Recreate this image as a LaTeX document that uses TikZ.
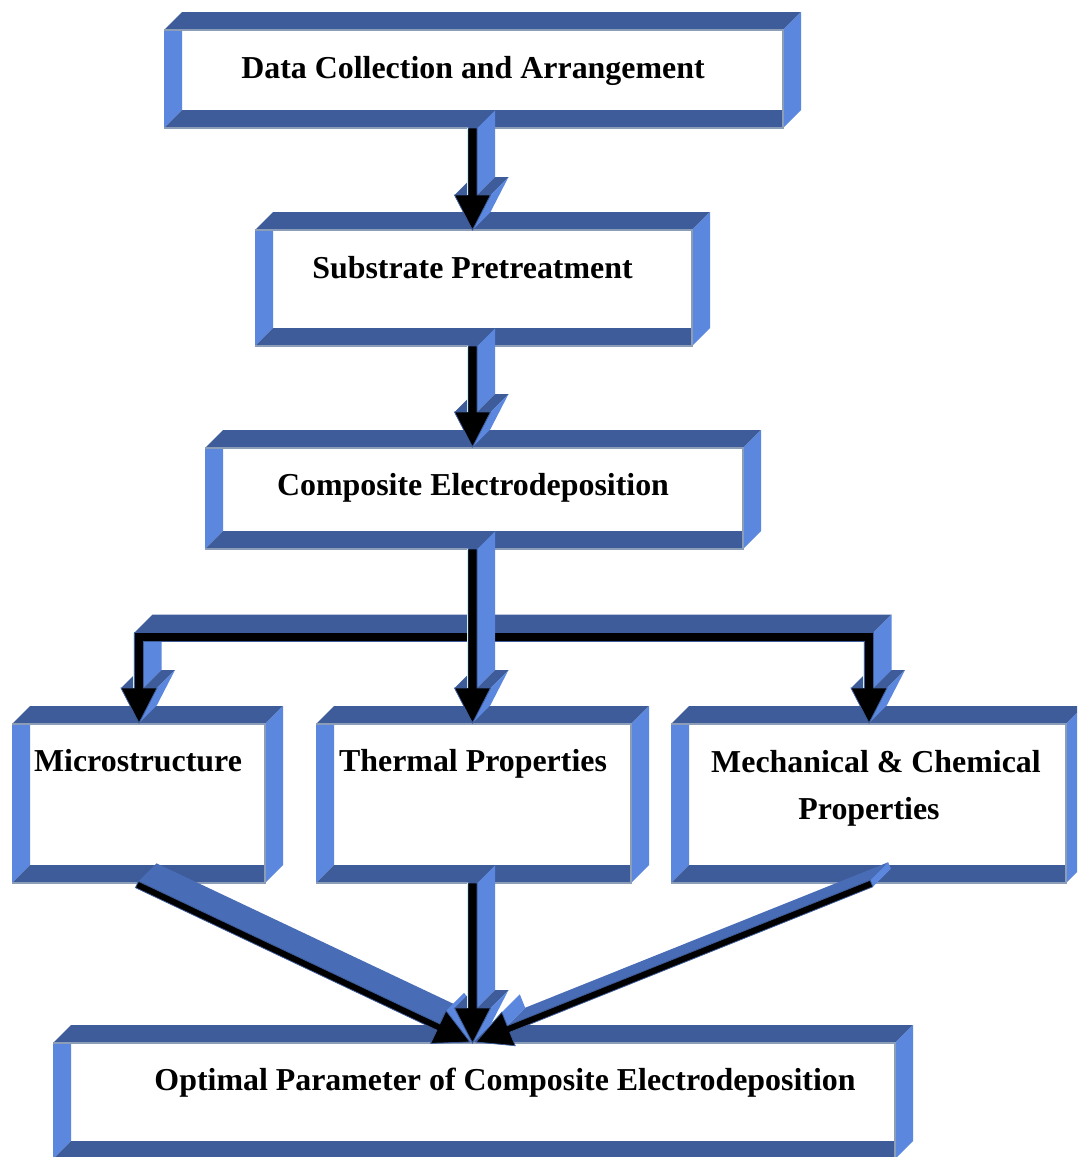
\documentclass[tikz,border=0pt]{standalone}
\usepackage{fontspec}
\setmainfont{Liberation Serif}
\usetikzlibrary{calc}
\definecolor{bdark}{RGB}{62,92,154}
\definecolor{blight}{RGB}{91,135,222}
\definecolor{bmid}{RGB}{72,108,182}
\definecolor{bgray}{RGB}{140,157,184}
\definecolor{hilite}{RGB}{208,238,246}

% 3D bevelled frame around a node
\newcommand{\bevbox}[1]{%
  \fill[bdark] ($(#1.north west)+(0,18)$) -- ($(#1.north west)+(18,0)$) -- (#1.north east) -- ($(#1.north east)+(-18,18)$) -- cycle;
  \fill[blight] ($(#1.north west)+(0,18)$) -- ($(#1.north west)+(18,18)$) -- ($(#1.south west)+(18,-18)$) -- (#1.south west) -- cycle;
  \fill[bdark] (#1.south west) -- ($(#1.south west)+(18,-18)$) -- ($(#1.south east)+(-18,-18)$) -- ($(#1.south east)+(-18,0)$) -- cycle;
  \fill[blight] ($(#1.north east)+(-18,18)$) -- (#1.north east) -- ($(#1.south east)+(0,-18)$) -- ($(#1.south east)+(-18,0)$) -- cycle;
  \draw[bgray, line width=1.2] ($(#1.north west)+(0,18)$) -- ($(#1.north east)+(-18,18)$) -- ($(#1.south east)+(-18,0)$) -- (#1.south west);
}

% head faces of a downward 3D arrow with tip #1
\newcommand{\vheadleft}[1]{%
  \fill[bdark] ($(#1)+(-18,-35)$) -- ($(#1)+(-4.5,-35)$) -- ($(#1)+(13.5,-53)$) -- ($(#1)+(0,-53)$) -- cycle;
}
\newcommand{\vheadright}[1]{%
  \fill[bdark] ($(#1)+(4.5,-35)$) -- ($(#1)+(18,-35)$) -- ($(#1)+(36,-53)$) -- ($(#1)+(22.5,-53)$) -- cycle;
  \fill[blight] ($(#1)+(18,-35)$) -- (#1) -- ($(#1)+(18,-18)$) -- ($(#1)+(36,-53)$) -- cycle;
}

% straight downward 3D arrow from #1 to #2
\newcommand{\varrow}[2]{%
  \vheadleft{#2}
  \fill[blight] ($(#1)+(4.5,0)$) -- ($(#2)+(4.5,-35)$) -- ($(#2)+(22.5,-53)$) -- ($(#1)+(22.5,-18)$) -- cycle;
  \vheadright{#2}
  \fill[bdark] ($(#1)+(-4.5,0)$) -- ($(#1)+(4.5,0)$) -- ($(#1)+(22.5,-18)$) -- ($(#1)+(13.5,-18)$) -- cycle;
  \filldraw[fill=black, draw=bdark, line width=0.8] ($(#1)+(-4.5,0)$) -- ($(#2)+(-4.5,-35)$) -- ($(#2)+(-18,-35)$) -- (#2) -- ($(#2)+(18,-35)$) -- ($(#2)+(4.5,-35)$) -- ($(#1)+(4.5,0)$) -- cycle;
  \draw[hilite, line width=1.2] ($(#1)+(-5.3,0)$) -- ($(#2)+(-5.3,-35)$);
}

\tikzset{
  boxnode/.style={rectangle, inner sep=0pt, outer sep=0pt, draw=none},
  txt/.style={font=\bfseries\fontsize{31.9}{38}\selectfont, inner sep=0pt, anchor=base}
}

\begin{document}
\begin{tikzpicture}[x=1pt, y=-1pt]
\useasboundingbox (0,0) rectangle (1077,1157);
\clip (0,0) rectangle (1077,1157);

% boxes
\node[boxnode, minimum width=637pt, minimum height=116pt] (b1) at (482.5,70) {};
\node[boxnode, minimum width=455pt, minimum height=134pt] (b2) at (482.5,279) {};
\node[boxnode, minimum width=556pt, minimum height=119pt] (b3) at (483,489.5) {};
\node[boxnode, minimum width=271pt, minimum height=177pt] (b4) at (147.5,794.5) {};
\node[boxnode, minimum width=333pt, minimum height=177pt] (b5) at (482.5,794.5) {};
\node[boxnode, minimum width=413pt, minimum height=177pt] (b6) at (877.5,794.5) {};
\node[boxnode, minimum width=860pt, minimum height=134pt] (b7) at (483,1092) {};
\bevbox{b1}
\bevbox{b2}
\bevbox{b3}
\bevbox{b4}
\bevbox{b5}
\bevbox{b6}
\bevbox{b7}

% texts
\node[txt] (t1) at (473,78) {Data Collection and Arrangement};
\node[txt] (t2) at (472.5,278) {Substrate Pretreatment};
\node[txt] (t3) at (473,495) {Composite Electrodeposition};
\node[txt] (t4) at (138,771) {Microstructure};
\node[txt] (t5) at (473,771) {Thermal Properties};
\node[txt] (t6a) at (876,772) {Mechanical \& Chemical};
\node[txt] (t6b) at (869,819) {Properties};
\node[txt] (t7) at (505,1090) {Optimal Parameter of Composite Electrodeposition};

% arrow end points
\coordinate (a1s) at (472.5,128);
\coordinate (a1t) at (472.5,230);
\coordinate (a2s) at (472.5,346);
\coordinate (a2t) at (472.5,447);
\coordinate (a3s) at (472.5,549);
\coordinate (a3t) at (472.5,723);
\coordinate (elL) at (139,723);
\coordinate (elR) at (869,723);
\coordinate (dls) at (137,884.5);
\coordinate (dlt) at (470,1042);
\coordinate (drs) at (871.5,883.5);
\coordinate (drt) at (476,1042);
\coordinate (a4s) at (472.5,883);
\coordinate (a4t) at (472.5,1043);

\varrow{a1s}{a1t}
\varrow{a2s}{a2t}

% elbow connector to the left and right boxes
\vheadleft{elL}
\fill[blight] ($(elL)+(4.5,-81.5)$) -- ($(elL)+(4.5,-35)$) -- ($(elL)+(22.5,-53)$) -- ($(elL)+(22.5,-99.5)$) -- cycle;
\vheadright{elL}
\fill[bdark] ($(elL)+(-4.5,-90.5)$) -- ($(elR)+(4.5,-90.5)$) -- ($(elR)+(22.5,-108.5)$) -- ($(elL)+(13.5,-108.5)$) -- cycle;
\vheadleft{elR}
\fill[blight] ($(elR)+(4.5,-90.5)$) -- ($(elR)+(4.5,-35)$) -- ($(elR)+(22.5,-53)$) -- ($(elR)+(22.5,-108.5)$) -- cycle;
\vheadright{elR}
\filldraw[fill=black, draw=bdark, line width=0.8]
  ($(elL)+(-4.5,-90.5)$) -- ($(elR)+(4.5,-90.5)$) -- ($(elR)+(4.5,-35)$) -- ($(elR)+(18,-35)$) -- (elR)
  -- ($(elR)+(-18,-35)$) -- ($(elR)+(-4.5,-35)$) -- ($(elR)+(-4.5,-81.5)$) -- ($(elL)+(4.5,-81.5)$)
  -- ($(elL)+(4.5,-35)$) -- ($(elL)+(18,-35)$) -- (elL) -- ($(elL)+(-18,-35)$) -- ($(elL)+(-4.5,-35)$) -- cycle;
\draw[hilite, line width=1.2] ($(elL)+(-5.3,-90)$) -- ($(elL)+(-5.3,-35)$);
\draw[hilite, line width=1.2] ($(elR)+(-5.3,-81)$) -- ($(elR)+(-5.3,-35)$);

\varrow{a3s}{a3t}

% left diagonal arrow
\fill[bmid] ($(dls)+(1.5,-3.16)$) -- ($(dlt)+(-30.14,-18.12)$) -- ($(dlt)+(-12.14,-36.12)$) -- ($(dls)+(19.5,-21.16)$) -- cycle;
\fill[blight] ($(dlt)+(-23.94,-31.23)$) -- (dlt) -- ($(dlt)+(18,-18)$) -- ($(dlt)+(-5.94,-49.23)$) -- cycle;
\filldraw[fill=black, draw=bdark, line width=0.8] ($(dls)+(1.5,-3.16)$) -- ($(dlt)+(-30.14,-18.12)$) -- ($(dlt)+(-23.94,-31.23)$) -- (dlt) -- ($(dlt)+(-39.34,1.31)$) -- ($(dlt)+(-33.14,-11.80)$) -- ($(dls)+(-1.5,3.16)$) -- cycle;

% right diagonal arrow
\fill[blight] ($(drs)+(-1.30,-3.25)$) -- ($(drs)+(1.30,3.25)$) -- ($(drs)+(19.30,-14.75)$) -- ($(drs)+(16.70,-21.25)$) -- cycle;
\fill[bmid] ($(drs)+(-1.30,-3.25)$) -- ($(drt)+(31.19,-16.27)$) -- ($(drt)+(49.19,-34.27)$) -- ($(drs)+(16.70,-21.25)$) -- cycle;
\fill[blight] ($(drt)+(31.19,-16.27)$) -- ($(drt)+(25.79,-29.73)$) -- ($(drt)+(43.79,-47.73)$) -- ($(drt)+(49.19,-34.27)$) -- cycle;
\filldraw[fill=black, draw=bdark, line width=0.8] ($(drs)+(-1.30,-3.25)$) -- ($(drt)+(31.19,-16.27)$) -- ($(drt)+(25.79,-29.73)$) -- (drt) -- ($(drt)+(39.19,3.69)$) -- ($(drt)+(33.79,-9.77)$) -- ($(drs)+(1.30,3.25)$) -- cycle;

\varrow{a4s}{a4t}
\end{tikzpicture}
\end{document}
